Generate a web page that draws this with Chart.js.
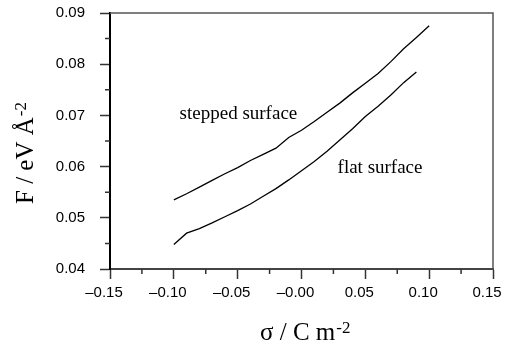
<!DOCTYPE html>
<html>
<head>
<meta charset="utf-8">
<script src="https://cdn.jsdelivr.net/npm/chart.js@4"></script>
<style>
  html, body { margin: 0; padding: 0; background: #fff; }
  #wrap { width: 505px; height: 348px; }
</style>
</head>
<body>
<div id="wrap"><canvas id="chart" width="505" height="348"></canvas></div>
<script>
const sigmaStepped = [-0.10, -0.09, -0.08, -0.07, -0.06, -0.05, -0.04, -0.03, -0.02, -0.01, 0.00,
  0.01, 0.02, 0.03, 0.04, 0.05, 0.06, 0.07, 0.08, 0.09, 0.10];
const fStepped = [0.0535, 0.0547, 0.0560, 0.0573, 0.0586, 0.0598, 0.0612, 0.0624, 0.0636, 0.0657, 0.0671,
  0.0688, 0.0706, 0.0724, 0.0744, 0.0763, 0.0782, 0.0805, 0.0830, 0.0852, 0.0875];

const sigmaFlat = [-0.10, -0.09, -0.08, -0.07, -0.06, -0.05, -0.04, -0.03, -0.02, -0.01, 0.00,
  0.01, 0.02, 0.03, 0.04, 0.05, 0.06, 0.07, 0.08, 0.09];
const fFlat = [0.0448, 0.0470, 0.0479, 0.0490, 0.0502, 0.0514, 0.0527, 0.0542, 0.0557, 0.0574, 0.0592,
  0.0610, 0.0630, 0.0652, 0.0674, 0.0698, 0.0718, 0.0740, 0.0764, 0.0785];

const xTicks = [-0.15, -0.10, -0.05, 0.00, 0.05, 0.10, 0.15];
const yTicks = [0.04, 0.05, 0.06, 0.07, 0.08, 0.09];

// text labels placed at data positions
const notes = [
  { text: "stepped surface", x: -0.0494, y: 0.0703 },
  { text: "flat surface", x: 0.0615, y: 0.0597 },
];

const serif = "'Liberation Serif', 'Times New Roman', serif";
const sans = "'Liberation Sans', Arial, sans-serif";

function toPoints(xs, ys) {
  return xs.map((x, i) => ({ x: x, y: ys[i] }));
}

function fmtX(v) {
  if (Math.abs(v) < 1e-9) return "\u20130.00";
  return v < 0 ? "\u2013" + Math.abs(v).toFixed(2) : v.toFixed(2);
}

function drawSup(ctx, x, y, main, sup, size, supSize) {
  ctx.font = size + "px " + serif;
  ctx.fillText(main, x, y);
  const w = ctx.measureText(main).width;
  ctx.font = supSize + "px " + serif;
  ctx.fillText(sup, x + w + 1, y - size * 0.3);
  return w + 1 + ctx.measureText(sup).width;
}

function noOverflow(s) {
  s.paddingLeft = 0;
  s.paddingRight = 0;
  s.paddingTop = 0;
  s.paddingBottom = 0;
}

const extras = {
  id: "extras",
  afterDraw(chart) {
    const ctx = chart.ctx;
    const xs = chart.scales.x, ys = chart.scales.y;
    const a = chart.chartArea;
    ctx.save();

    // top and right frame
    ctx.strokeStyle = "#555";
    ctx.lineWidth = 1.5;
    ctx.beginPath();
    ctx.moveTo(a.left, a.top);
    ctx.lineTo(a.right, a.top);
    ctx.lineTo(a.right, a.bottom);
    ctx.stroke();

    // minor ticks
    ctx.strokeStyle = "#333";
    ctx.lineWidth = 1.5;
    ctx.beginPath();
    for (let i = 0; i < xTicks.length - 1; i++) {
      const px = xs.getPixelForValue((xTicks[i] + xTicks[i + 1]) / 2);
      ctx.moveTo(px, a.bottom);
      ctx.lineTo(px, a.bottom + 5);
    }
    for (let i = 0; i < yTicks.length - 1; i++) {
      const py = ys.getPixelForValue((yTicks[i] + yTicks[i + 1]) / 2);
      ctx.moveTo(a.left, py);
      ctx.lineTo(a.left - 5, py);
    }
    ctx.stroke();

    // curve labels
    ctx.fillStyle = "#000";
    ctx.font = "19px " + serif;
    ctx.textAlign = "center";
    ctx.textBaseline = "middle";
    notes.forEach(n => {
      ctx.fillText(n.text, xs.getPixelForValue(n.x), ys.getPixelForValue(n.y));
    });

    // axis titles
    ctx.textAlign = "left";
    ctx.textBaseline = "alphabetic";
    drawSup(ctx, 260, 340, "\u03c3 / C m", "-2", 25, 17);

    ctx.translate(33, 204);
    ctx.rotate(-Math.PI / 2);
    drawSup(ctx, 0, 0, "F / eV \u00c5", "-2", 25, 17);
    ctx.restore();
  }
};

new Chart(document.getElementById("chart"), {
  type: "line",
  data: {
    datasets: [
      {
        label: "stepped surface",
        data: toPoints(sigmaStepped, fStepped),
        borderColor: "#000",
        borderWidth: 1.3,
        pointRadius: 0,
        fill: false,
        tension: 0,
      },
      {
        label: "flat surface",
        data: toPoints(sigmaFlat, fFlat),
        borderColor: "#000",
        borderWidth: 1.3,
        pointRadius: 0,
        fill: false,
        tension: 0,
      },
    ],
  },
  options: {
    responsive: false,
    animation: false,
    events: [],
    layout: { padding: { left: 0, top: 13, right: 12, bottom: 0 } },
    plugins: {
      legend: { display: false },
      tooltip: { enabled: false },
    },
    scales: {
      x: {
        type: "linear",
        min: xTicks[0],
        max: xTicks[xTicks.length - 1],
        afterBuildTicks: (s) => { s.ticks = xTicks.map(v => ({ value: v })); },
        afterFit: (s) => { s.height = 79; noOverflow(s); },
        border: { color: "#444", width: 2 },
        grid: { drawOnChartArea: false, tickLength: 10, tickWidth: 1.5, tickColor: "#333" },
        ticks: {
          callback: (v) => fmtX(v),
          font: { family: sans, size: 15 },
          color: "#000",
          padding: 5,
          labelOffset: -6,
          maxRotation: 0,
        },
      },
      y: {
        type: "linear",
        min: yTicks[0],
        max: yTicks[yTicks.length - 1],
        afterBuildTicks: (s) => { s.ticks = yTicks.map(v => ({ value: v })); },
        afterFit: (s) => { s.width = 110; noOverflow(s); },
        border: { color: "#000", width: 2 },
        grid: { drawOnChartArea: false, tickLength: 10, tickWidth: 1.5, tickColor: "#333" },
        ticks: {
          callback: (v) => v.toFixed(2),
          font: { family: sans, size: 15 },
          color: "#000",
          padding: 15,
        },
      },
    },
  },
  plugins: [extras],
});
</script>
</body>
</html>
